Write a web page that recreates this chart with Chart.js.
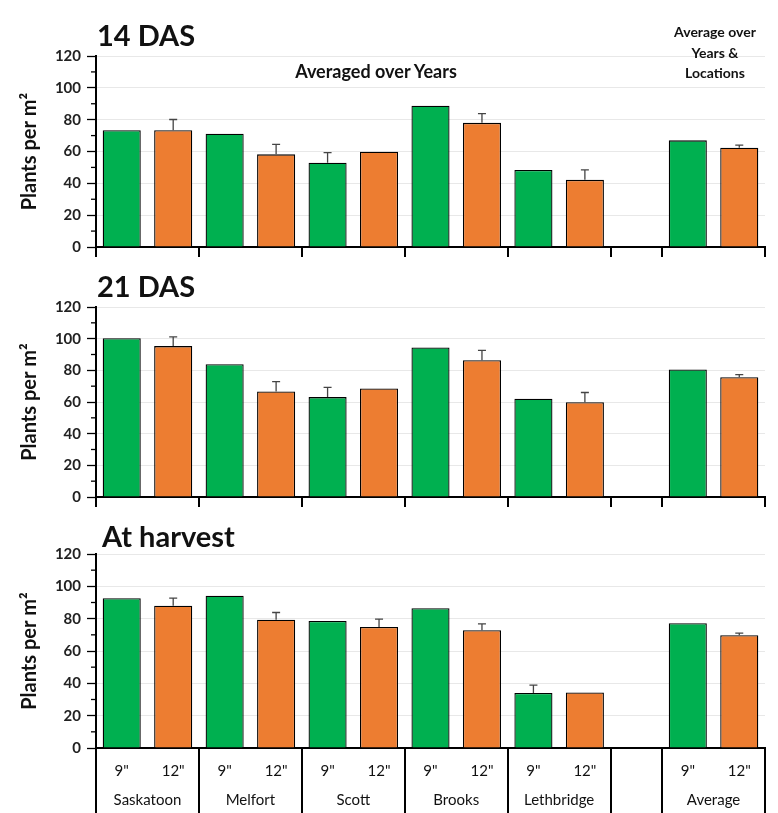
<!DOCTYPE html>
<html>
<head>
<meta charset="utf-8">
<script src="https://cdn.jsdelivr.net/npm/chart.js@4.4.1/dist/chart.umd.min.js"></script>
<style>
  html, body { margin: 0; padding: 0; background: #fff; }
  #wrap { position: relative; width: 778px; height: 813px; overflow: hidden; font-family: Lato, "Open Sans", sans-serif; }
  canvas { position: absolute; left: 0; }
  .ttl { position: absolute; font-weight: 700; font-size: 29px; color: #111; line-height: 1; white-space: nowrap; }
  .note { position: absolute; font-weight: 700; color: #111; text-align: center; white-space: nowrap; }
</style>
</head>
<body>
<div id="wrap">
  <canvas id="c1" width="778" height="262" style="top:0px"></canvas>
  <canvas id="c2" width="778" height="252" style="top:260px"></canvas>
  <canvas id="c3" width="778" height="301" style="top:512px"></canvas>
  <div class="ttl" style="left:97px; top:20px;">14 DAS</div>
  <div class="ttl" style="left:97px; top:271px;">21 DAS</div>
  <div class="ttl" style="left:102px; top:521px;">At harvest</div>
  <div class="note" style="left:276px; top:60px; width:200px; font-size:18px;">Averaged over Years</div>
  <div class="note" style="left:664px; top:22px; width:102px; font-size:14px; line-height:20.5px;">Average over<br>Years &amp;<br>Locations</div>
</div>
<script>
// ---- Data ----
const locations = ['Saskatoon', 'Melfort', 'Scott', 'Brooks', 'Lethbridge'];
const averageLabel = 'Average';
const spacings = ['9"', '12"'];
const yTicks = [0, 20, 40, 60, 80, 100, 120];

// 14 DAS
const das14_9in  = [73.4, 71.2, 53.0, 88.8, 48.4];
const das14_12in = [73.4, 58.2, 59.9, 78.0, 42.2];
const das14_avg  = [67.0, 62.4];
const das14_err9  = [null, null, 6.3, null, null];
const das14_err12 = [6.7, 6.3, null, 5.8, 6.2];
const das14_errAvg = [null, 1.6];

// 21 DAS
const das21_9in  = [100.3, 83.9, 63.1, 94.5, 62.1];
const das21_12in = [95.3, 66.7, 68.5, 86.4, 59.8];
const das21_avg  = [80.6, 75.6];
const das21_err9  = [null, null, 6.1, null, null];
const das21_err12 = [5.8, 6.2, null, 6.2, 6.2];
const das21_errAvg = [null, 1.7];

// At harvest
const harv_9in  = [92.7, 94.2, 78.6, 86.5, 34.0];
const harv_12in = [88.0, 79.3, 74.9, 72.9, 34.4];
const harv_avg  = [77.2, 69.8];
const harv_err9  = [null, null, null, null, 4.9];
const harv_err12 = [4.7, 4.5, 4.8, 3.9, null];
const harv_errAvg = [null, 1.2];

const GREEN = '#00B050';
const ORANGE = '#ED7D31';

// ---- Build slot layout: 5 locations x 2, one empty gap slot, Average x 2 ----
const groups = locations.map(l => ({ name: l, slots: 2 }))
  .concat([{ name: '', slots: 1 }, { name: averageLabel, slots: 2 }]);
const slotLabels = [];
groups.forEach(g => { if (g.slots === 2) slotLabels.push(spacings[0], spacings[1]); else slotLabels.push(''); });

function buildSeries(v9, v12, avg, which) {
  const out = [];
  for (let i = 0; i < locations.length; i++) {
    out.push(which === 0 ? v9[i] : null);
    out.push(which === 1 ? v12[i] : null);
  }
  out.push(null);
  out.push(which === 0 ? avg[0] : null);
  out.push(which === 1 ? avg[1] : null);
  return out;
}

// ---- Plugins ----
const errorBarPlugin = {
  id: 'errorBars',
  afterDatasetsDraw(chart) {
    const ctx = chart.ctx, y = chart.scales.y;
    chart.data.datasets.forEach((ds, di) => {
      if (!ds.errors) return;
      const meta = chart.getDatasetMeta(di);
      ds.errors.forEach((e, i) => {
        if (e == null || ds.data[i] == null) return;
        const el = meta.data[i];
        const x = el.x;
        const y0 = y.getPixelForValue(ds.data[i]);
        const y1 = y.getPixelForValue(ds.data[i] + e);
        ctx.save();
        ctx.strokeStyle = '#444';
        ctx.lineWidth = 1.3;
        ctx.beginPath();
        ctx.moveTo(x, y0); ctx.lineTo(x, y1);
        ctx.moveTo(x - 4, y1); ctx.lineTo(x + 4, y1);
        ctx.stroke();
        ctx.restore();
      });
    });
  }
};

const axisExtrasPlugin = {
  id: 'axisExtras',
  afterDraw(chart, args, opts) {
    const ctx = chart.ctx, x = chart.scales.x, y = chart.scales.y;
    const area = chart.chartArea;
    ctx.save();
    // minor y ticks
    ctx.strokeStyle = '#000';
    ctx.lineWidth = 1.3;
    for (let v = 10; v < 120; v += 20) {
      const py = y.getPixelForValue(v);
      ctx.beginPath(); ctx.moveTo(area.left - 5, py); ctx.lineTo(area.left, py); ctx.stroke();
    }
    // group separators below x axis
    const half = (x.getPixelForValue(1) - x.getPixelForValue(0)) / 2;
    const start = x.getPixelForValue(0) - half;
    ctx.lineWidth = 2;
    let idx = 0;
    const bounds = [0];
    groups.forEach(g => { idx += g.slots; bounds.push(idx); });
    bounds.forEach(b => {
      const px = Math.round(start + b * 2 * half);
      ctx.beginPath(); ctx.moveTo(px, area.bottom); ctx.lineTo(px, area.bottom + opts.sepLength); ctx.stroke();
    });
    // group names
    if (opts.groupNames) {
      ctx.fillStyle = '#111';
      ctx.font = '15px Lato, "Open Sans", sans-serif';
      ctx.textAlign = 'center';
      ctx.textBaseline = 'middle';
      idx = 0;
      groups.forEach(g => {
        if (g.name) {
          const cx = start + (idx + g.slots / 2) * 2 * half;
          ctx.fillText(g.name, cx, area.bottom + opts.namesOffset);
        }
        idx += g.slots;
      });
    }
    ctx.restore();
  }
};

function makeChart(id, v9, v12, avg, e9, e12, eAvg, cfg) {
  const err9 = buildSeries(e9, e9, eAvg, 0);
  const err12 = buildSeries(e12, e12, eAvg, 1);
  return new Chart(document.getElementById(id), {
    type: 'bar',
    data: {
      labels: slotLabels,
      datasets: [
        { label: spacings[0], data: buildSeries(v9, v12, avg, 0), errors: err9,
          backgroundColor: GREEN, borderColor: '#000', borderWidth: 1.3 },
        { label: spacings[1], data: buildSeries(v9, v12, avg, 1), errors: err12,
          backgroundColor: ORANGE, borderColor: '#000', borderWidth: 1.3 }
      ]
    },
    options: {
      responsive: false,
      animation: false,
      events: [],
      layout: { padding: { top: cfg.top, right: 13, left: 0, bottom: 0 } },
      datasets: { bar: { grouped: false, barPercentage: 0.74, categoryPercentage: 1.0 } },
      plugins: {
        legend: { display: false },
        tooltip: { enabled: false },
        axisExtras: { sepLength: cfg.sepLength, groupNames: cfg.groupNames, namesOffset: 52 }
      },
      scales: {
        x: {
          type: 'category',
          offset: true,
          grid: { display: false, drawTicks: false },
          border: { display: true, color: '#000', width: 2 },
          ticks: {
            display: cfg.groupNames,
            padding: 14,
            color: '#111',
            font: { family: 'Lato, "Open Sans", sans-serif', size: 15 },
            maxRotation: 0, autoSkip: false
          },
          afterFit(scale) { scale.height = cfg.xHeight; }
        },
        y: {
          min: 0, max: 120,
          afterBuildTicks(scale) { scale.ticks = yTicks.map(v => ({ value: v })); },
          grid: { color: '#e8e8e8', lineWidth: 1, drawTicks: true, tickLength: 9, tickColor: '#000', tickWidth: 1.3 },
          border: { display: true, color: '#000', width: 2 },
          ticks: {
            padding: 6,
            color: '#222',
            font: { family: 'Lato, "Open Sans", sans-serif', size: 15, weight: 'bold' }
          },
          title: {
            display: true,
            text: 'Plants per m²',
            color: '#111',
            font: { family: 'Lato, "Open Sans", sans-serif', size: 20, weight: 'bold', lineHeight: 1.2 },
            padding: { top: 18, bottom: 0 }
          },
          afterFit(scale) { scale.width = 96; }
        }
      }
    },
    plugins: [errorBarPlugin, axisExtrasPlugin]
  });
}

makeChart('c1', das14_9in, das14_12in, das14_avg, das14_err9, das14_err12, das14_errAvg,
  { top: 56, xHeight: 14, sepLength: 10, groupNames: false });
makeChart('c2', das21_9in, das21_12in, das21_avg, das21_err9, das21_err12, das21_errAvg,
  { top: 47, xHeight: 13, sepLength: 10, groupNames: false });
makeChart('c3', harv_9in, harv_12in, harv_avg, harv_err9, harv_err12, harv_errAvg,
  { top: 42, xHeight: 65, sepLength: 70, groupNames: true });
</script>
</body>
</html>
